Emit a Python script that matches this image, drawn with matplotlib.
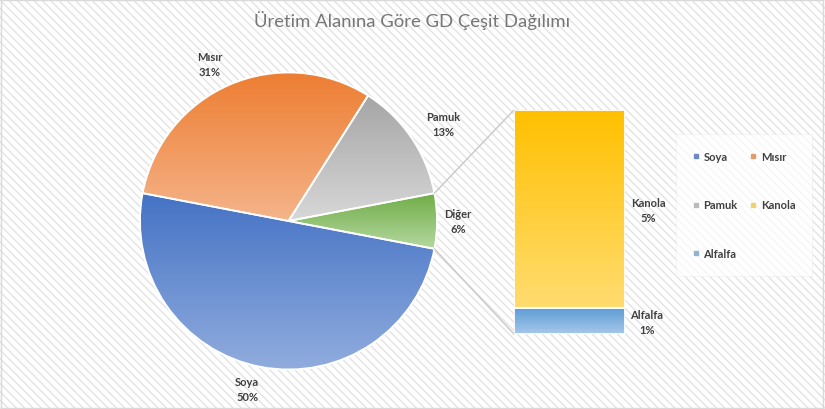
import numpy as np
import matplotlib
matplotlib.use("Agg")
import matplotlib.pyplot as plt
from matplotlib.patches import Rectangle, ConnectionPatch, Wedge
from matplotlib.colors import LinearSegmentedColormap
from matplotlib.lines import Line2D

plt.rcParams['font.family'] = ['Lato', 'DejaVu Sans']

# ---- data ----
title = "Üretim Alanına Göre GD Çeşit Dağılımı"
pie_labels = ["Diğer", "Pamuk", "Mısır", "Soya"]
pie_values = [6.0, 13.0, 31.0, 50.0]
bar_labels = ["Alfalfa", "Kanola"]
bar_values = [0.7, 5.3]
legend_order = ["Soya", "Pamuk", "Alfalfa", "Mısır", "Kanola"]

colors = {
    "Soya": ("#4472C4", "#93AEDF"),
    "Mısır": ("#ED7D31", "#F5B48A"),
    "Pamuk": ("#A5A5A5", "#D8D8D8"),
    "Diğer": ("#70AD47", "#B5D8A0"),
    "Kanola": ("#FFC000", "#FFDC70"),
    "Alfalfa": ("#5B9BD5", "#A6C8EA"),
}
legend_colors = {
    "Soya": "#6C8BC4", "Mısır": "#E39A6C", "Pamuk": "#BBBBBB",
    "Kanola": "#EFD36A", "Alfalfa": "#8FB2D6",
}

W, H = 825, 410
fig = plt.figure(figsize=(W / 100, H / 100), dpi=100)
fig.patch.set_facecolor("white")

# hatched background
bg = fig.add_axes([0, 0, 1, 1])
bg.set_xlim(0, 1); bg.set_ylim(0, 1); bg.axis("off")
plt.rcParams['hatch.linewidth'] = 1.0
bg.add_patch(Rectangle((0, 0), 1, 1, facecolor="white", edgecolor="#E3E3E3",
                       hatch="\\\\\\\\", linewidth=0, transform=bg.transAxes))
bg.add_patch(Rectangle((0.001, 0.002), 0.997, 0.996, facecolor="none",
                       edgecolor="#D9D9D9", linewidth=1.0, transform=bg.transAxes))

fig.text(412 / W, 1 - 21 / H, title, ha="center", va="center",
         fontsize=13.3, color="#767676")


def grad_fill(ax, patch, c_top, c_bot, y0, y1, x0, x1):
    cmap = LinearSegmentedColormap.from_list("g", [c_bot, c_top])
    grad = np.linspace(0, 1, 256).reshape(-1, 1)
    im = ax.imshow(grad, cmap=cmap, origin="lower", aspect="auto",
                   extent=[x0, x1, y0, y1], zorder=patch.get_zorder() + 0.1,
                   interpolation="bilinear")
    im.set_clip_path(patch)


# ---- pie ----
cx, cy, r = 288.5, 222, 148.5
pax = fig.add_axes([(cx - r) / W, (H - cy - r) / H, 2 * r / W, 2 * r / H])
total = sum(pie_values)
start = -pie_values[0] / total * 360 / 2
wedges, _ = pax.pie(pie_values, startangle=start, counterclock=True,
                    colors=[colors[l][0] for l in pie_labels],
                    wedgeprops=dict(edgecolor="white", linewidth=1.3))
for w, lab in zip(wedges, pie_labels):
    v = w.get_path().vertices
    grad_fill(pax, w, colors[lab][0], colors[lab][1], v[:, 1].min(), v[:, 1].max(), -1, 1)
    pax.add_patch(Wedge(w.center, w.r, w.theta1, w.theta2, facecolor="none",
                        edgecolor="white", linewidth=1.3, zorder=5))
pax.set_xlim(-1, 1); pax.set_ylim(-1, 1); pax.set_aspect("equal")

label_pos = {"Mısır": (210, 65), "Pamuk": (443, 125), "Diğer": (458, 222), "Soya": (247, 390)}
for lab, val in zip(pie_labels, pie_values):
    x, y = label_pos[lab]
    fig.text(x / W, 1 - y / H, f"{lab}\n{round(val / total * 100):.0f}%", ha="center",
             va="center", fontsize=8, color="#404040", fontweight="bold", linespacing=1.35)

# ---- bar ----
bx0, bx1, by0, by1 = 514, 625, 111, 335
bax = fig.add_axes([bx0 / W, (H - by1) / H, (bx1 - bx0) / W, (by1 - by0) / H])
bottoms = np.concatenate([[0], np.cumsum(bar_values)[:-1]])
bars = bax.bar([0] * len(bar_values), bar_values, bottom=bottoms, width=1.0,
               color=[colors[l][0] for l in bar_labels], edgecolor="white", linewidth=1.3)
for b, lab in zip(bars, bar_labels):
    grad_fill(bax, b, colors[lab][0], colors[lab][1], b.get_y(), b.get_y() + b.get_height(), -0.5, 0.5)
    bax.add_patch(Rectangle((b.get_x(), b.get_y()), b.get_width(), b.get_height(),
                            facecolor="none", edgecolor="white", linewidth=1.3, zorder=5))
bax.set_xlim(-0.5, 0.5); bax.set_ylim(0, sum(bar_values)); bax.axis("off")

bar_label_pos = {"Kanola": (648, 211), "Alfalfa": (647, 323)}
for lab, val in zip(bar_labels, bar_values):
    x, y = bar_label_pos[lab]
    fig.text(x / W, 1 - y / H, f"{lab}\n{round(val / total * 100):.0f}%", ha="center",
             va="center", fontsize=8, color="#404040", fontweight="bold", linespacing=1.35)

# connector lines
th1 = np.deg2rad(wedges[0].theta1); th2 = np.deg2rad(wedges[0].theta2)
for th, yb in [(th2, sum(bar_values)), (th1, 0)]:
    con = ConnectionPatch(xyA=(np.cos(th), np.sin(th)), coordsA=pax.transData,
                          xyB=(-0.5, yb), coordsB=bax.transData,
                          color="#C8C8C8", linewidth=1.0)
    fig.add_artist(con)

# ---- legend ----
handles = [Line2D([], [], marker="s", linestyle="none", markersize=3.3,
                  markerfacecolor=legend_colors[l], markeredgecolor=legend_colors[l])
           for l in legend_order]
leg = fig.legend(handles, legend_order, ncol=2, loc="center",
                 bbox_to_anchor=(744 / W, 1 - 206 / H), fontsize=8,
                 labelspacing=3.4, handlelength=0.6, handletextpad=0.4,
                 columnspacing=1.1, frameon=True, fancybox=False,
                 borderpad=1.5, borderaxespad=0)
leg.get_frame().set_facecolor("#FFFFFF")
leg.get_frame().set_alpha(0.7)
leg.get_frame().set_edgecolor("#EDEDED")
leg.get_frame().set_linewidth(0.6)
for t in leg.get_texts():
    t.set_color("#404040"); t.set_fontweight("bold")

fig.savefig("out.png", dpi=100)
